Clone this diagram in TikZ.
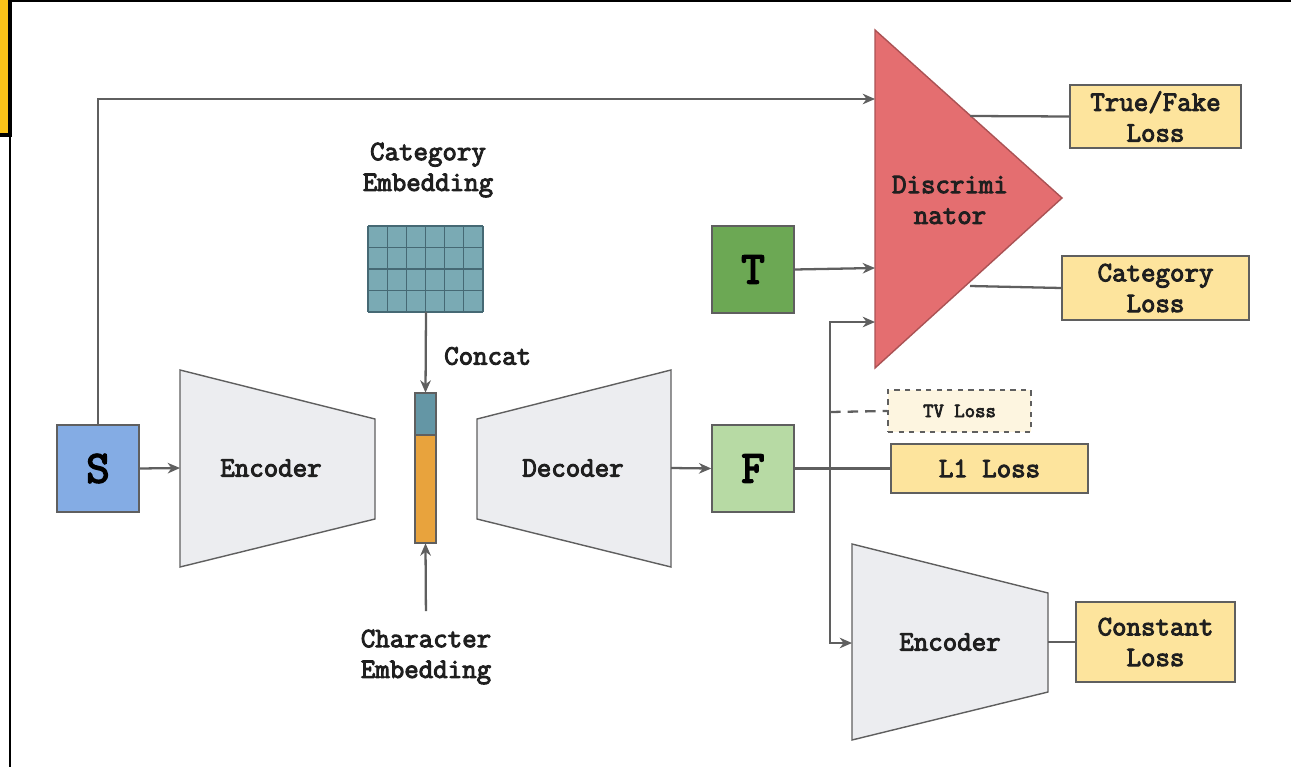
\documentclass[tikz,border=0pt]{standalone}
\usepackage{fontspec}
\newfontfamily\boxfont[FakeBold=3.5]{Latin Modern Mono}
\usetikzlibrary{arrows.meta}

\definecolor{linegray}{RGB}{95,95,95}
\definecolor{lossfill}{RGB}{253,228,157}
\definecolor{tvfill}{RGB}{253,245,224}
\definecolor{sblue}{RGB}{132,172,228}
\definecolor{tgreen}{RGB}{108,168,84}
\definecolor{fgreen}{RGB}{183,218,164}
\definecolor{discred}{RGB}{228,110,112}
\definecolor{gridteal}{RGB}{122,170,180}
\definecolor{barteal}{RGB}{100,150,165}
\definecolor{barorange}{RGB}{232,163,61}
\definecolor{codergray}{RGB}{236,237,240}
\definecolor{frameyellow}{RGB}{250,195,25}

\tikzset{
    lbl/.style={font=\boxfont\fontsize{16}{17.5}\selectfont, align=center, text=black!88},
    bigletter/.style={draw=linegray, line width=0.8pt, minimum width=1.64cm, minimum height=1.74cm,
        inner sep=0pt, font=\boxfont\fontsize{26}{28}\selectfont},
    lossbox/.style={lbl, draw=linegray, line width=0.8pt, fill=lossfill, inner sep=0pt},
    coder/.style={draw=linegray, line width=0.8pt, fill=codergray},
    conn/.style={draw=linegray, line width=1.3pt, -{Stealth[length=7pt,width=6pt,inset=2.2pt]}},
    plain/.style={draw=linegray, line width=1.3pt},
}

\begin{document}
\begin{tikzpicture}[x=0.02cm,y=-0.02cm]
    \useasboundingbox (0,0) rectangle (1291,767);
    % screen frame
    \draw[black, line width=1.2pt] (0,1) -- (1291,1);
    \draw[black, line width=0.6pt] (10,135) -- (10,767);
    \draw[black, line width=1.8pt, fill=frameyellow] (-5,-5) rectangle (10,135);

    % input glyphs
    \node[bigletter, fill=sblue] (S) at (98,468.5) {S};
    \node[bigletter, fill=tgreen] (T) at (753,269.5) {T};
    \node[bigletter, fill=fgreen] (F) at (753,468.5) {F};

    % encoder / decoder
    \draw[coder] (180,370) -- (375,419) -- (375,519) -- (180,567) -- cycle;
    \node[lbl] (enc) at (271,468) {Encoder};
    \coordinate (encin) at (180,468);
    \draw[coder] (477,419) -- (671,370) -- (671,567) -- (477,519) -- cycle;
    \node[lbl] (dec) at (573,468) {Decoder};
    \coordinate (decout) at (671,468);
    \draw[coder] (852,544) -- (1048,593) -- (1048,692) -- (852,740) -- cycle;
    \node[lbl] (enctwo) at (950,642) {Encoder};
    \coordinate (enctwoin) at (852,643);
    \coordinate (enctwoout) at (1048,642);

    % category embedding grid
    \node[lbl] (catlbl) at (428,170) {Category\\Embedding};
    \fill[gridteal] (368,226) rectangle (483,312);
    \foreach \i in {0,...,6}
        \draw[barteal!70!black, line width=0.6pt] (368+\i*19.17,226) -- (368+\i*19.17,312);
    \foreach \j in {0,...,4}
        \draw[barteal!70!black, line width=0.6pt] (368,226+\j*21.5) -- (483,226+\j*21.5);
    \coordinate (gridout) at (426,312);

    % concat bar
    \draw[linegray, line width=0.6pt, fill=barteal] (415,393) rectangle (436,435);
    \draw[linegray, line width=0.6pt, fill=barorange] (415,435) rectangle (436,543);
    \node[inner sep=0pt, minimum width=0.42cm, minimum height=3cm] (bar) at (425.5,468) {};
    \node[lbl, anchor=west] (concat) at (438,356) {Concat};
    \node[lbl] (charlbl) at (426,657) {Character\\Embedding};

    % discriminator
    \draw[draw=discred!75!black, line width=0.8pt, fill=discred] (875,30) -- (1062,198) -- (875,368) -- cycle;
    \node[lbl] (disc) at (950,200) {Discrimi\\nator};
    \coordinate (discs) at (875,99);
    \coordinate (disct) at (875,268);
    \coordinate (discf) at (875,322);
    \coordinate (discup) at (970,116);
    \coordinate (disclo) at (970,286);

    % losses
    \node[lossbox, minimum width=3.42cm, minimum height=1.26cm] (tf) at (1155.5,116.5) {True/Fake\\Loss};
    \node[lossbox, minimum width=3.74cm, minimum height=1.28cm] (catloss) at (1155.5,288) {Category\\Loss};
    \node[lbl, draw=linegray, dashed, line width=0.7pt, fill=tvfill, minimum width=2.86cm, minimum height=0.84cm,
        inner sep=0pt, font=\boxfont\fontsize{11.5}{13}\selectfont] (tv) at (959.5,411) {TV Loss};
    \node[lossbox, minimum width=3.94cm, minimum height=0.98cm] (lone) at (989.5,468.5) {L1 Loss};
    \node[lossbox, minimum width=3.18cm, minimum height=1.6cm] (const) at (1155.5,642) {Constant\\Loss};

    % connectors
    \draw[conn] (S.north) |- (discs);
    \draw[conn] (S.east) -- (encin);
    \draw[conn] (gridout) -- (bar.north);
    \draw[conn, shorten <=7pt] (charlbl.north) -- (bar.south);
    \draw[conn] (decout) -- (F.west);
    \draw[conn] (T.east) -- (disct);
    \draw[plain] (F.east) -- (lone.west);
    \coordinate (split) at (830,468);
    \draw[conn] (split) |- (discf);
    \draw[conn] (split) |- (enctwoin);
    \draw[plain, dashed, dash pattern=on 6pt off 4pt] (830,412) -- (tv.west);
    \draw[plain] (discup) -- (tf.west);
    \draw[plain] (disclo) -- (catloss.west);
    \draw[plain] (enctwoout) -- (const.west);
\end{tikzpicture}
\end{document}
